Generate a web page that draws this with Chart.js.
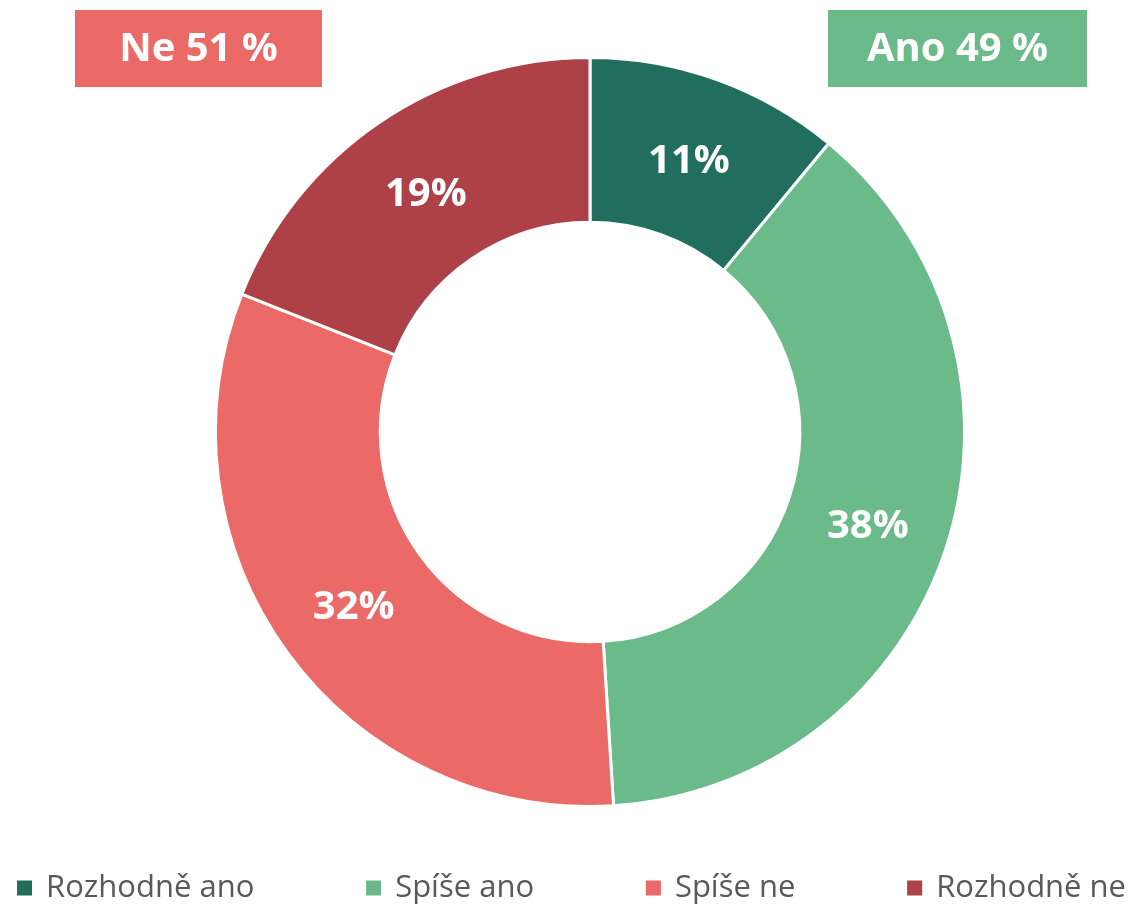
<!DOCTYPE html>
<html>
<head>
<meta charset="utf-8">
<script src="https://cdn.jsdelivr.net/npm/chart.js@4.4.1/dist/chart.umd.min.js"></script>
<style>
  html, body { margin: 0; padding: 0; background: #ffffff; }
  #wrap { width: 1128px; height: 904px; }
</style>
</head>
<body>
<div id="wrap"><canvas id="c" width="1128" height="904"></canvas></div>
<script>
const categories = ['Rozhodně ano', 'Spíše ano', 'Spíše ne', 'Rozhodně ne'];
const values = [11, 38, 32, 19];
const colors = ['#226E5E', '#6BBA8A', '#EB6966', '#AE4148'];
const groupLabels = ['Ne 51 %', 'Ano 49 %'];
const groupColors = ['#EB6966', '#6BBA8A'];

const sliceLabels = {
  id: 'sliceLabels',
  afterDatasetsDraw(chart) {
    const ctx = chart.ctx;
    const meta = chart.getDatasetMeta(0);
    ctx.save();
    ctx.fillStyle = '#ffffff';
    ctx.font = 'bold 40px "Open Sans"';
    ctx.textAlign = 'center';
    ctx.textBaseline = 'middle';
    meta.data.forEach((arc, i) => {
      const p = arc.tooltipPosition();
      ctx.fillText(values[i] + '%', p.x, p.y + 4);
    });
    ctx.restore();
  }
};

const groupBoxes = {
  id: 'groupBoxes',
  afterDraw(chart) {
    const ctx = chart.ctx;
    const boxes = [[75, 10, 247, 77], [828, 10, 259, 77]];
    ctx.save();
    boxes.forEach((b, i) => {
      ctx.fillStyle = groupColors[i];
      ctx.fillRect(b[0], b[1], b[2], b[3]);
      ctx.fillStyle = '#ffffff';
      ctx.font = 'bold 40px "Open Sans"';
      ctx.textAlign = 'center';
      ctx.textBaseline = 'middle';
      ctx.fillText(groupLabels[i], b[0] + b[2] / 2, b[1] + b[3] / 2 + 1);
    });
    ctx.restore();
  }
};

const customLegend = {
  id: 'customLegend',
  afterDraw(chart) {
    const ctx = chart.ctx;
    ctx.save();
    ctx.font = '31px "Open Sans"';
    ctx.textBaseline = 'middle';
    const box = 15, gapBT = 14, left = 17, right = 1126, y = 888;
    const widths = categories.map(t => box + gapBT + ctx.measureText(t).width);
    const total = widths.reduce((a, b) => a + b, 0);
    const gap = (right - left - total) / (categories.length - 1);
    let x = left;
    categories.forEach((t, i) => {
      ctx.fillStyle = colors[i];
      ctx.fillRect(x, y - box / 2, box, box);
      ctx.fillStyle = '#595959';
      ctx.fillText(t, x + box + gapBT, y);
      x += widths[i] + gap;
    });
    ctx.restore();
  }
};

new Chart(document.getElementById('c'), {
  type: 'doughnut',
  data: {
    labels: categories,
    datasets: [{
      data: values,
      backgroundColor: colors,
      borderColor: '#ffffff',
      borderWidth: 3,
      hoverOffset: 0
    }]
  },
  options: {
    responsive: false,
    animation: false,
    cutout: '56%',
    layout: { padding: { top: 56, bottom: 96, left: 52, right: 0 } },
    plugins: {
      legend: { display: false },
      tooltip: { enabled: false }
    }
  },
  plugins: [sliceLabels, groupBoxes, customLegend]
});
</script>
</body>
</html>
